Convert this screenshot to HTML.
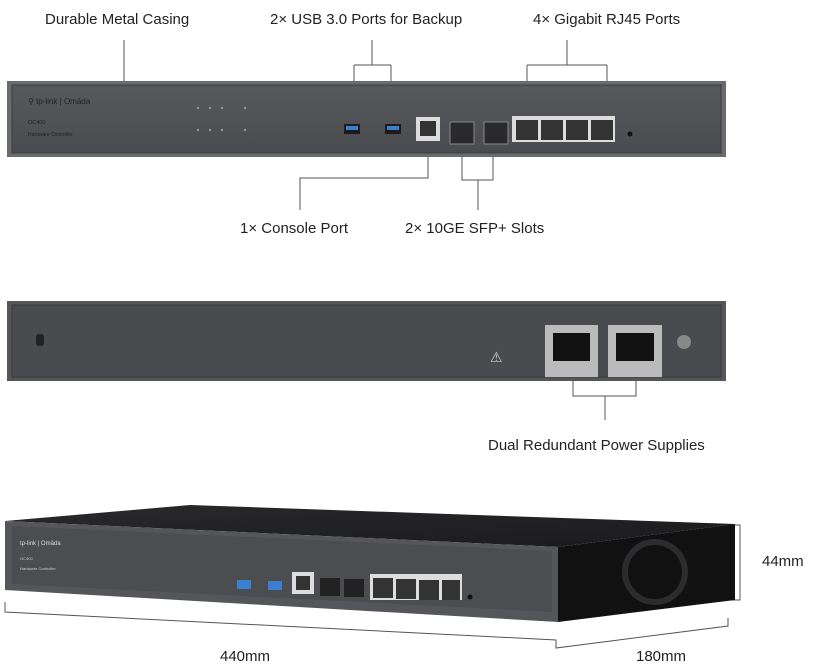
<!DOCTYPE html>
<html><head><meta charset="utf-8"><style>
html,body{margin:0;padding:0;background:#fff;}
svg text{font-family:"Liberation Sans",sans-serif;fill:#222;}
</style></head><body>
<svg width="813" height="664" viewBox="0 0 813 664" xmlns="http://www.w3.org/2000/svg">
<defs>
<linearGradient id="pn" x1="0" y1="0" x2="0" y2="1"><stop offset="0" stop-color="#58595d"/><stop offset="1" stop-color="#4a4b4f"/></linearGradient>
<linearGradient id="tp" x1="0" y1="0" x2="1" y2="1"><stop offset="0" stop-color="#2a2a2c"/><stop offset="1" stop-color="#1a1a1c"/></linearGradient>
</defs>
<g font-size="15">
<text x="45" y="24">Durable Metal Casing</text>
<text x="270" y="24">2× USB 3.0 Ports for Backup</text>
<text x="533" y="24">4× Gigabit RJ45 Ports</text>
<text x="240" y="233">1× Console Port</text>
<text x="405" y="233">2× 10GE SFP+ Slots</text>
<text x="488" y="450">Dual Redundant Power Supplies</text>
<text x="762" y="566">44mm</text>
<text x="220" y="661">440mm</text>
<text x="636" y="661">180mm</text>
</g>
<g stroke="#555" stroke-width="1" fill="none">
<path d="M124 40V100"/>
<path d="M372 40V65M354 65H391M354 65V128M391 65V128"/>
<path d="M567 40V65M527 65H607M527 65V125M607 65V125"/>
<path d="M428 146V178H300V210"/>
<path d="M462 146V180H493V146M478 180V210"/>
<path d="M573 378V396H636V378M605 396V420"/>
<path d="M728 525H740V600H728"/>
<path d="M5 602V612L556 640V648L728 626V618"/>
</g>
<!-- front panel -->
<rect x="7" y="81" width="719" height="76" fill="#6a6b6f"/>
<rect x="12" y="85" width="709" height="68" fill="url(#pn)" stroke="#3c3d40"/>
<g fill="#ddd" font-size="6">
<text x="28" y="104" font-size="8">⚲ tp-link | Omāda</text>
<text x="28" y="124" font-size="5.5">OC400</text>
<text x="28" y="136" font-size="5">Hardware Controller</text>
</g>
<g fill="#999"><circle cx="198" cy="108" r="1.2"/><circle cx="210" cy="108" r="1.2"/><circle cx="222" cy="108" r="1.2"/><circle cx="245" cy="108" r="1.2"/><circle cx="198" cy="130" r="1.2"/><circle cx="210" cy="130" r="1.2"/><circle cx="222" cy="130" r="1.2"/><circle cx="245" cy="130" r="1.2"/></g>
<g>
<rect x="344" y="124" width="16" height="10" fill="#1c1c1e"/><rect x="346" y="126" width="12" height="4" fill="#3a7fd0"/>
<rect x="385" y="124" width="16" height="10" fill="#1c1c1e"/><rect x="387" y="126" width="12" height="4" fill="#3a7fd0"/>
<rect x="416" y="117" width="24" height="24" fill="#ddd"/><rect x="420" y="121" width="16" height="15" fill="#333"/>
<rect x="450" y="122" width="24" height="22" fill="#2a2a2c" stroke="#888"/>
<rect x="484" y="122" width="24" height="22" fill="#2a2a2c" stroke="#888"/>
<rect x="512" y="116" width="103" height="26" fill="#ddd"/>
<rect x="516" y="120" width="22" height="20" fill="#333"/><rect x="541" y="120" width="22" height="20" fill="#333"/><rect x="566" y="120" width="22" height="20" fill="#333"/><rect x="591" y="120" width="22" height="20" fill="#333"/>
<circle cx="630" cy="134" r="2.5" fill="#111"/>
</g>
<!-- rear -->
<rect x="7" y="301" width="719" height="80" fill="#55565a"/>
<rect x="12" y="305" width="709" height="72" fill="#4a4b4f" stroke="#3a3b3e"/>
<rect x="36" y="334" width="8" height="12" rx="3" fill="#222"/>
<text x="490" y="362" font-size="14" fill="#ccc" style="fill:#ccc">⚠</text>
<rect x="545" y="325" width="53" height="52" fill="#bbb"/><rect x="553" y="333" width="37" height="28" fill="#111"/>
<rect x="608" y="325" width="54" height="52" fill="#bbb"/><rect x="616" y="333" width="38" height="28" fill="#111"/>
<circle cx="684" cy="342" r="7" fill="#888"/>
<!-- perspective -->
<polygon points="5,521 190,505 735,524 558,547" fill="url(#tp)"/>
<polygon points="558,547 735,524 735,600 558,622" fill="#111"/>
<circle cx="655" cy="572" r="30" fill="none" stroke="#2c2c2e" stroke-width="6"/>
<polygon points="5,521 558,547 558,622 5,590" fill="#55565a"/>
<polygon points="12,526 552,551 552,612 12,584" fill="#4c4d51"/>
<text x="20" y="545" font-size="6" style="fill:#ddd">tp-link | Omāda</text>
<text x="20" y="560" font-size="4" style="fill:#ccc">OC400</text>
<text x="20" y="570" font-size="4" style="fill:#ccc">Hardware Controller</text>
<rect x="237" y="580" width="14" height="9" fill="#3a7fd0"/>
<rect x="268" y="581" width="14" height="9" fill="#3a7fd0"/>
<rect x="292" y="572" width="22" height="22" fill="#ddd"/><rect x="296" y="576" width="14" height="14" fill="#333"/>
<rect x="320" y="578" width="20" height="18" fill="#222"/><rect x="344" y="579" width="20" height="18" fill="#222"/>
<rect x="370" y="574" width="92" height="26" fill="#ddd"/>
<rect x="373" y="578" width="20" height="20" fill="#333"/><rect x="396" y="579" width="20" height="20" fill="#333"/><rect x="419" y="580" width="20" height="20" fill="#333"/><rect x="442" y="580" width="18" height="20" fill="#333"/>
<circle cx="470" cy="597" r="2.5" fill="#111"/>
</svg>
</body></html>
